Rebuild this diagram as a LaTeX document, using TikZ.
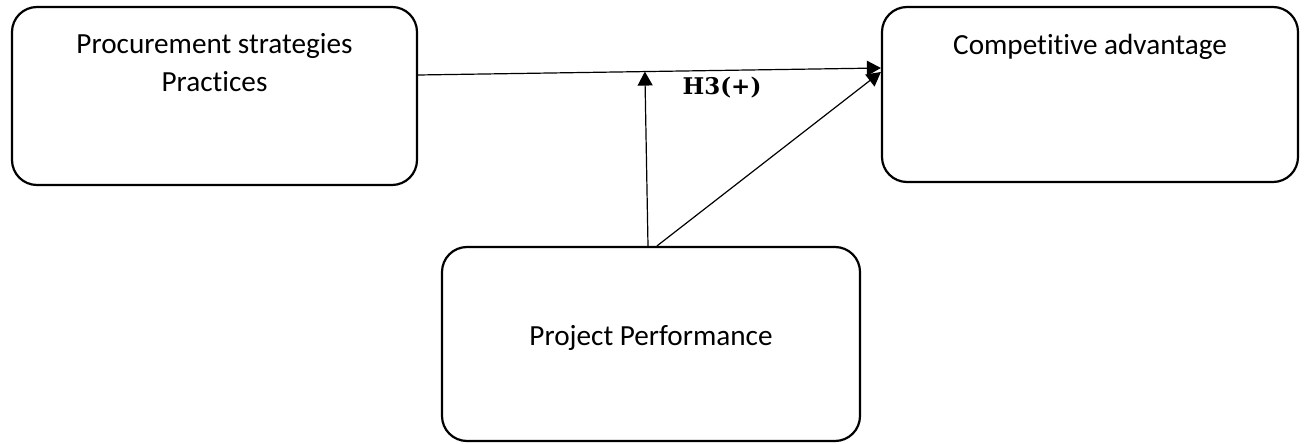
\documentclass[tikz,border=0pt]{standalone}
\usepackage{fontspec}
\setmainfont{Carlito}[Ligatures=CommonOff]
\newfontfamily\hypfont{DejaVu Serif}
\usetikzlibrary{positioning,arrows.meta}

\begin{document}
\begin{tikzpicture}[x=0.5pt,y=-0.5pt]

      \useasboundingbox (0,0) rectangle (1307,444);

      \begin{scope}[every node/.style={draw,line width=1.1pt,rounded corners=12.5pt}]
        \node[minimum width=202.5pt,minimum height=89pt] (procbox) at (214.5,96) {};
        \node[minimum width=208pt,minimum height=87.5pt] (compbox) at (1090,94.5) {};
        \node[minimum width=209pt,minimum height=97pt] (perfbox) at (651,344) {};
      \end{scope}

      \begin{scope}[every node/.style={align=center,inner sep=0pt,font=\fontsize{14.6}{19}\selectfont}]
        \node[below=13.5pt of procbox.north] (proctext) {Procurement strategies\\Practices};
        \node[below=14pt of compbox.north] (comptext) {Competitive advantage};
        \node (perftext) at ([yshift=3pt]perfbox.center) {Project Performance};
        \node[font=\hypfont\bfseries\fontsize{11.5}{13}\selectfont] (hyp) at (722,88) {H3(+)};
      \end{scope}

      \path ([yshift=10.5pt]procbox.east) -- ([yshift=13.25pt]compbox.west) coordinate[pos=0.49] (meet);

      \begin{scope}[every edge/.style={draw,line width=0.6pt,-{Triangle[length=7pt,width=7.5pt]}}]
        \path ([yshift=10.5pt]procbox.east) edge ([yshift=13.25pt]compbox.west);
        \path ([xshift=-1.5pt]perfbox.north) edge (meet);
        \path ([xshift=3pt]perfbox.north) edge ([yshift=11.25pt]compbox.west);
      \end{scope}

\end{tikzpicture}
\end{document}
